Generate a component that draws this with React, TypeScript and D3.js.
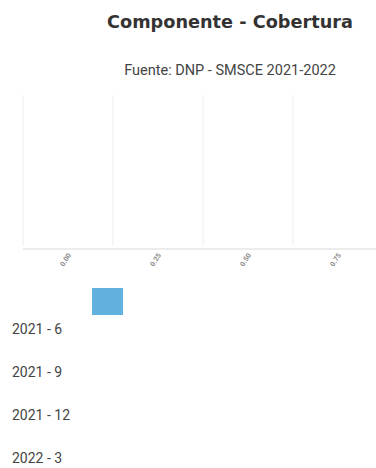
import React from "react";
import * as d3 from "d3";

const title = "Componente - Cobertura";
const subtitle = "Fuente: DNP - SMSCE 2021-2022";
const xCategories = ["0.00", "0.25", "0.50", "0.75"];
const yCategories = ["2021 - 6", "2021 - 9", "2021 - 12", "2022 - 3"];
const legendItems = ["Cobertura"];
const legendColors = ["#62b0de"];

const W = 376;
const H = 468;

export default function App() {
  const x = d3.scaleBand<string>().domain(xCategories).range([23, 383]);
  const y = d3.scaleBand<string>().domain(yCategories).range([308.5, 480.5]);
  const plotTop = 95;
  const plotBottom = 246;
  return (
    <svg
      width={W}
      height={H}
      style={{ position: "absolute", left: 0, top: 0, background: "#fff" }}
    >
      <text
        x={230}
        y={28}
        textAnchor="middle"
        fontFamily="DejaVu Sans"
        fontWeight="bold"
        fontSize={17.7}
        fill="#333"
      >
        {title}
      </text>
      <text
        x={230}
        y={75}
        textAnchor="middle"
        fontFamily="Roboto"
        fontSize={14.5}
        fill="#444"
      >
        {subtitle}
      </text>
      {xCategories.map((c) => (
        <line
          key={"g" + c}
          x1={x(c)!}
          x2={x(c)!}
          y1={plotTop}
          y2={plotBottom}
          stroke="#eeeeee"
          strokeWidth={1}
        />
      ))}
      <line x1={23} x2={376} y1={249} y2={249} stroke="#e6e6e6" strokeWidth={1.5} />
      {xCategories.map((c) => {
        const cx = x(c)! + x.bandwidth() / 2 - 2;
        return (
          <text
            key={"t" + c}
            transform={`translate(${cx},${260}) rotate(-58)`}
            textAnchor="middle"
            dominantBaseline="middle"
            fontFamily="Roboto"
            fontWeight="bold"
            fontSize={7}
            fill="#888"
          >
            {c}
          </text>
        );
      })}
      {legendItems.map((l, i) => (
        <rect
          key={l}
          x={92}
          y={288 + i * 30}
          width={31}
          height={27}
          fill={legendColors[i]}
        >
          <title>{l}</title>
        </rect>
      ))}
      {yCategories.map((c) => (
        <text
          key={c}
          x={12}
          y={y(c)! + y.bandwidth() / 2}
          dominantBaseline="middle"
          fontFamily="Roboto"
          fontSize={14}
          fill="#444"
        >
          {c}
        </text>
      ))}
    </svg>
  );
}
